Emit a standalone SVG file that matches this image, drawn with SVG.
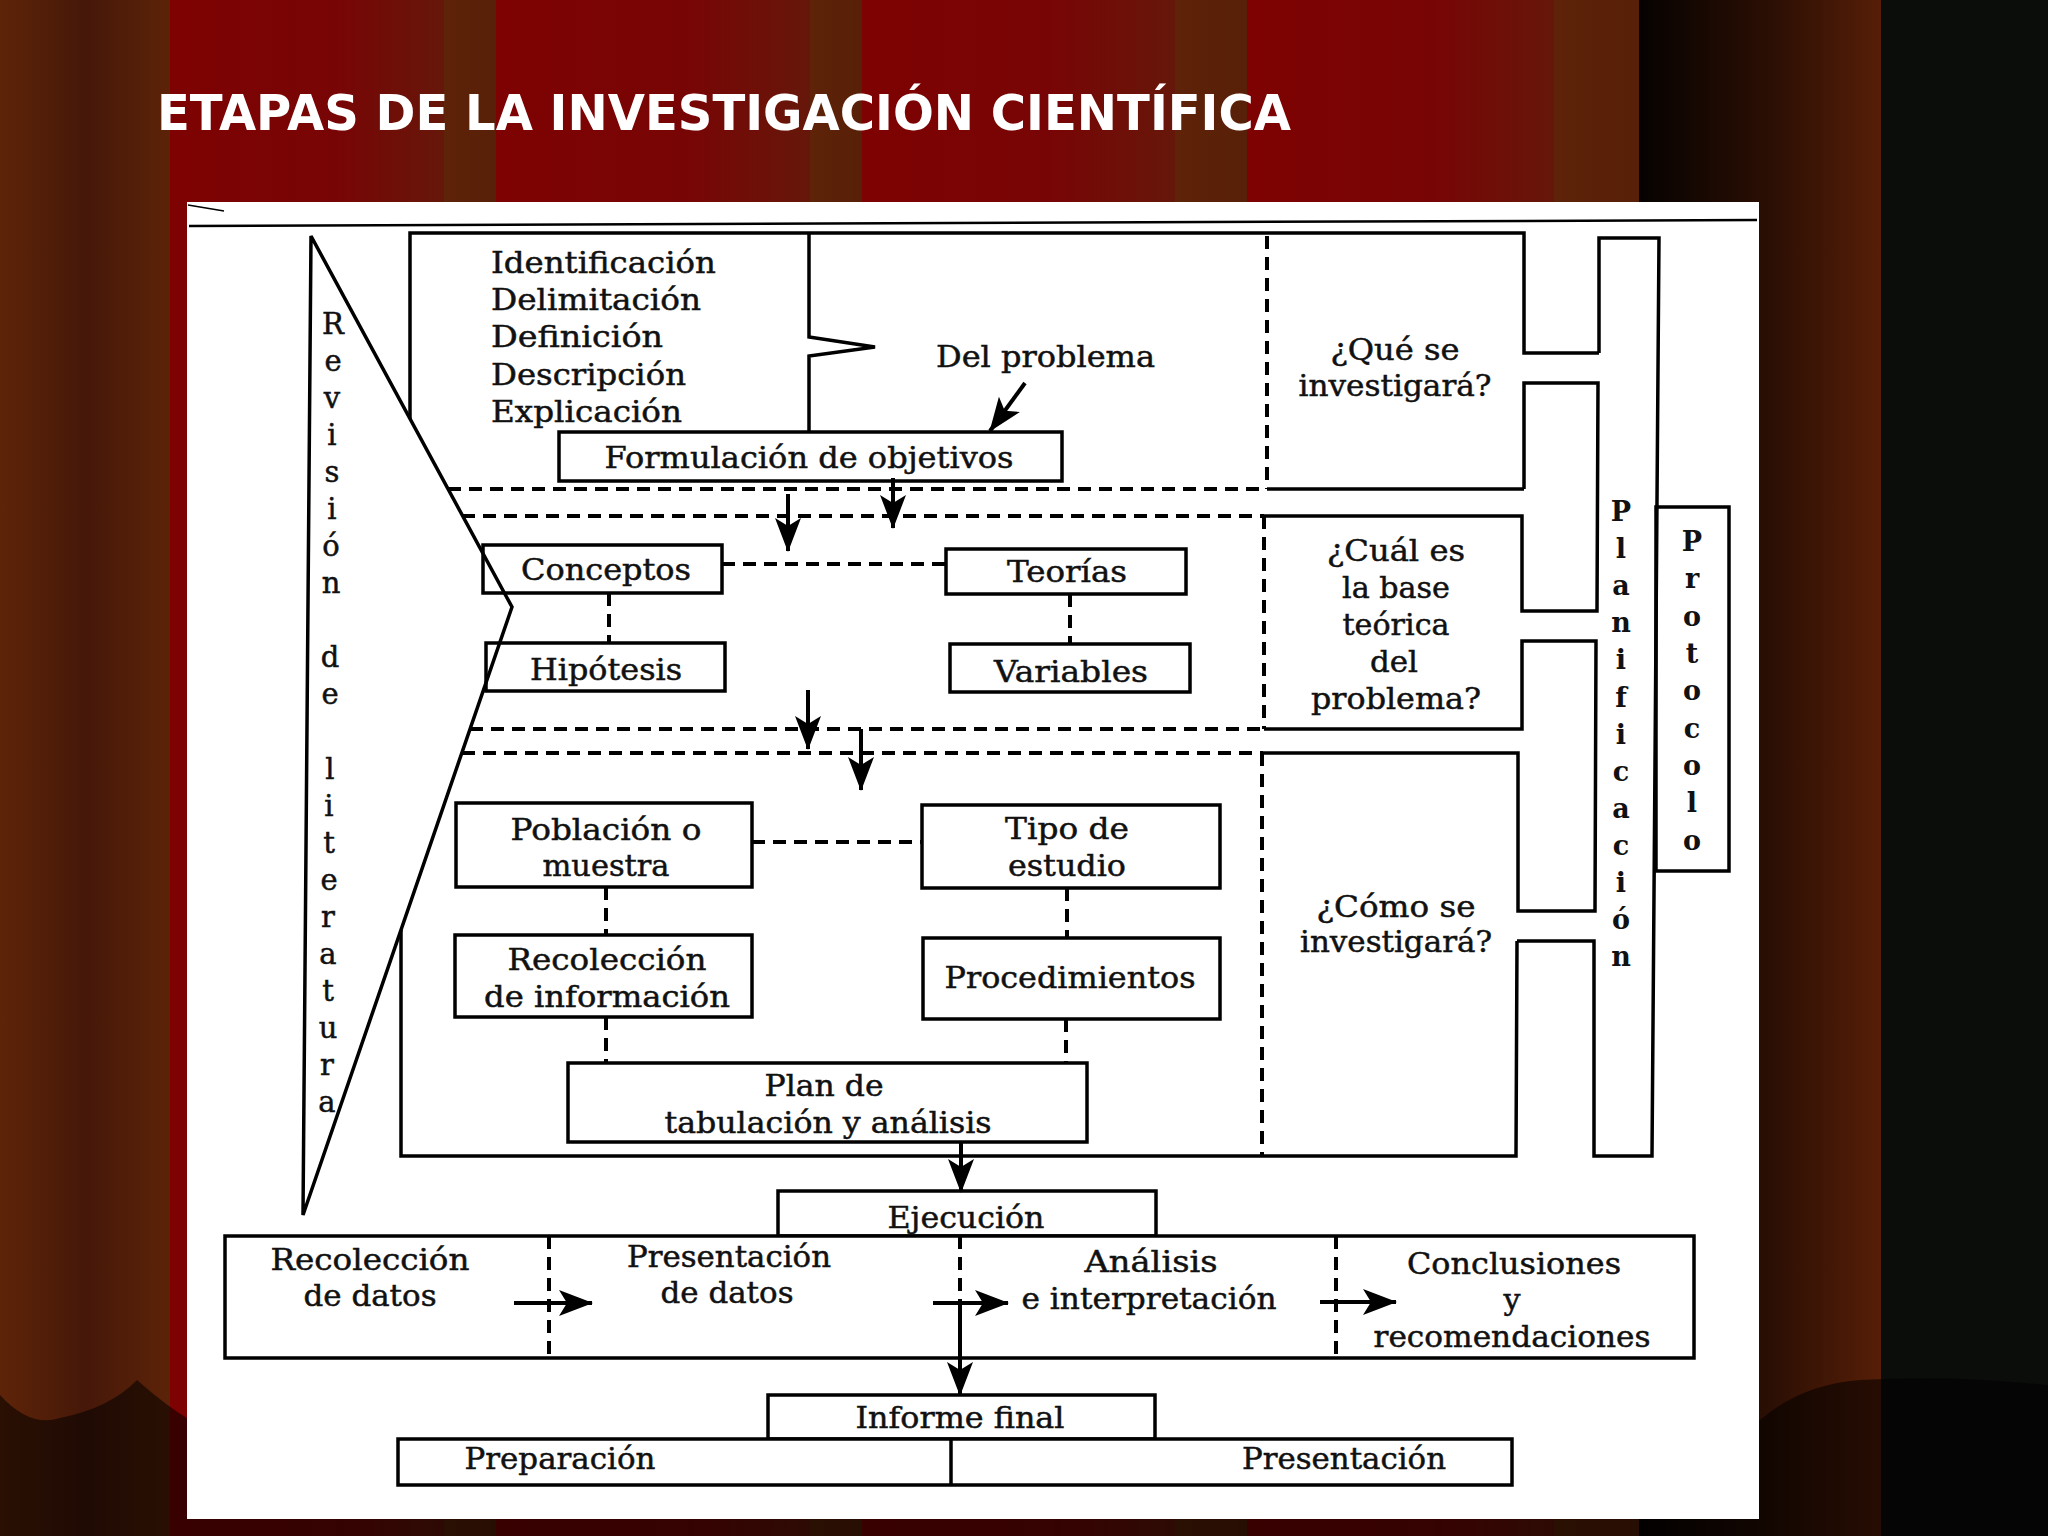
<svg xmlns="http://www.w3.org/2000/svg" width="2048" height="1536" viewBox="0 0 2048 1536">
<defs>
<linearGradient id="gL" x1="0" x2="1"><stop offset="0" stop-color="#5e2408"/><stop offset="0.5" stop-color="#461809"/><stop offset="1" stop-color="#5c2308"/></linearGradient>
<linearGradient id="gR" x1="0" x2="1"><stop offset="0" stop-color="#7e0202"/><stop offset="0.6" stop-color="#780505"/><stop offset="1" stop-color="#66170a"/></linearGradient>
<linearGradient id="gB" x1="0" x2="1"><stop offset="0" stop-color="#5e2308"/><stop offset="1" stop-color="#582008"/></linearGradient>
<linearGradient id="gK" x1="0" x2="1"><stop offset="0" stop-color="#060201"/><stop offset="0.55" stop-color="#2c0f04"/><stop offset="1" stop-color="#561e07"/></linearGradient>
<marker id="ah" markerUnits="userSpaceOnUse" markerWidth="34" markerHeight="26" viewBox="0 0 34 26" refX="33" refY="13" orient="auto">
<path d="M0,0 L34,13 L0,26 L8,13 Z" fill="#000"/>
</marker>
</defs>
<style>
.ln{fill:none;stroke:#000;stroke-width:3.5}
.dash{fill:none;stroke:#000;stroke-width:4;stroke-dasharray:13 8}
.bx{fill:#fff;stroke:#000;stroke-width:3.5}
.t{font-family:"DejaVu Serif","Liberation Serif",serif;font-size:30px;fill:#111;stroke:#111;stroke-width:0.5;text-anchor:middle}
.ts{font-family:"DejaVu Serif","Liberation Serif",serif;font-size:30px;fill:#111;stroke:#111;stroke-width:0.5}
.v{font-family:"DejaVu Serif","Liberation Serif",serif;font-size:29px;fill:#111;stroke:#111;stroke-width:0.5;text-anchor:middle}
.vb{font-family:"DejaVu Serif","Liberation Serif",serif;font-size:27px;font-weight:bold;fill:#111;text-anchor:middle}
.arr{fill:none;stroke:#000;stroke-width:4;marker-end:url(#ah)}
</style>

<!-- background curtain -->
<g id="background">
<rect x="0" y="0" width="170" height="1536" fill="url(#gL)"/>
<rect x="170" y="0" width="274" height="1536" fill="url(#gR)"/>
<rect x="444" y="0" width="52" height="1536" fill="url(#gB)"/>
<rect x="496" y="0" width="314" height="1536" fill="url(#gR)"/>
<rect x="810" y="0" width="52" height="1536" fill="url(#gB)"/>
<rect x="862" y="0" width="313" height="1536" fill="url(#gR)"/>
<rect x="1175" y="0" width="72" height="1536" fill="url(#gB)"/>
<rect x="1247" y="0" width="307" height="1536" fill="url(#gR)"/>
<rect x="1554" y="0" width="85" height="1536" fill="url(#gB)"/>
<rect x="1639" y="0" width="242" height="1536" fill="url(#gK)"/>
<rect x="1881" y="0" width="167" height="1536" fill="#0b0d0b"/>
<path d="M0,1395 Q30,1428 60,1418 Q110,1408 137,1380 Q165,1405 190,1420 L1760,1420 Q1800,1385 1860,1380 Q1950,1375 2048,1385 L2048,1536 L0,1536 Z" fill="#000" opacity="0.55"/>
</g>

<text x="157" y="130" font-family="DejaVu Sans, Liberation Sans, sans-serif" font-weight="bold" font-size="50" fill="#fff" textLength="1134" lengthAdjust="spacingAndGlyphs">ETAPAS DE LA INVESTIGACIÓN CIENTÍFICA</text>

<!-- white panel -->
<rect x="187" y="202" width="1572" height="1317" fill="#fff"/>
<path d="M189,226 L1757,220" stroke="#000" stroke-width="2.5" fill="none"/>
<path d="M188,205 L224,211" stroke="#000" stroke-width="1.5" fill="none"/>

<!-- frames / outlines -->
<g id="frames">
<path class="ln" d="M410,419 L410,233 L1524,233 L1524,353 L1599,353"/>
<path class="ln" d="M1524,489 L1524,383 L1598,383 L1597,611 L1522,611 L1522,516 L1264,516"/>
<path class="ln" d="M1267,489 L1524,489"/>
<path class="ln" d="M1264,729 L1522,729 L1522,641 L1596,641 L1595,911 L1518,911 L1518,753 L1263,753"/>
<path class="ln" d="M1517,941 L1516,1156 L401,1156 L401,930"/>
<path class="ln" d="M809,233 L809,337 L875,347 L809,356 L809,432"/>
</g>

<g id="planificacion">
<path class="ln" d="M1599,353 L1599,238 L1659,238 L1652,1156 L1594,1156 L1594,941 L1517,941"/>
<g class="vb">
<text x="1621" y="521">P</text><text x="1621" y="558">l</text><text x="1621" y="595">a</text><text x="1621" y="632">n</text><text x="1621" y="669">i</text><text x="1621" y="707">f</text><text x="1621" y="744">i</text><text x="1621" y="781">c</text><text x="1621" y="818">a</text><text x="1621" y="855">c</text><text x="1621" y="892">i</text><text x="1621" y="929">ó</text><text x="1621" y="966">n</text>
</g>
</g>

<g id="protocolo">
<rect x="1656" y="507" width="73" height="364" fill="none" stroke="#000" stroke-width="3.5"/>
<g class="vb">
<text x="1692" y="551">P</text><text x="1692" y="588">r</text><text x="1692" y="626">o</text><text x="1692" y="663">t</text><text x="1692" y="700">o</text><text x="1692" y="738">c</text><text x="1692" y="775">o</text><text x="1692" y="812">l</text><text x="1692" y="850">o</text>
</g>
</g>

<g id="problema-lista">
<text class="ts" x="491" y="273" textLength="225" lengthAdjust="spacingAndGlyphs">Identificación</text>
<text class="ts" x="491" y="310" textLength="210" lengthAdjust="spacingAndGlyphs">Delimitación</text>
<text class="ts" x="491" y="347" textLength="172" lengthAdjust="spacingAndGlyphs">Definición</text>
<text class="ts" x="491" y="385" textLength="195" lengthAdjust="spacingAndGlyphs">Descripción</text>
<text class="ts" x="491" y="422" textLength="191" lengthAdjust="spacingAndGlyphs">Explicación</text>
</g>
<g id="del-problema">
<text class="ts" x="936" y="367" textLength="219" lengthAdjust="spacingAndGlyphs">Del problema</text>
</g>

<g id="formulacion">
<rect class="bx" x="559" y="432" width="503" height="49"/>
<text class="t" x="809" y="468" textLength="409" lengthAdjust="spacingAndGlyphs">Formulación de objetivos</text>
</g>

<g id="que-se">
<text class="t" x="1395" y="360" textLength="129" lengthAdjust="spacingAndGlyphs">¿Qué se</text>
<text class="t" x="1395" y="396" textLength="193" lengthAdjust="spacingAndGlyphs">investigará?</text>
</g>
<g id="cual-es">
<text class="t" x="1396" y="561" textLength="138" lengthAdjust="spacingAndGlyphs">¿Cuál es</text>
<text class="t" x="1396" y="598" textLength="108" lengthAdjust="spacingAndGlyphs">la base</text>
<text class="t" x="1396" y="635" textLength="107" lengthAdjust="spacingAndGlyphs">teórica</text>
<text class="t" x="1394" y="672" textLength="48" lengthAdjust="spacingAndGlyphs">del</text>
<text class="t" x="1396" y="709" textLength="170" lengthAdjust="spacingAndGlyphs">problema?</text>
</g>
<g id="como-se">
<text class="t" x="1396" y="917" textLength="159" lengthAdjust="spacingAndGlyphs">¿Cómo se</text>
<text class="t" x="1396" y="952" textLength="192" lengthAdjust="spacingAndGlyphs">investigará?</text>
</g>

<g id="conceptos">
<rect class="bx" x="483" y="545" width="239" height="48"/>
<text class="t" x="606" y="580" textLength="170" lengthAdjust="spacingAndGlyphs">Conceptos</text>
</g>
<g id="teorias">
<rect class="bx" x="946" y="549" width="240" height="45"/>
<text class="t" x="1067" y="582" textLength="120" lengthAdjust="spacingAndGlyphs">Teorías</text>
</g>
<g id="hipotesis">
<rect class="bx" x="486" y="643" width="239" height="48"/>
<text class="t" x="606" y="680" textLength="152" lengthAdjust="spacingAndGlyphs">Hipótesis</text>
</g>
<g id="variables">
<rect class="bx" x="950" y="644" width="240" height="48"/>
<text class="t" x="1071" y="682" textLength="154" lengthAdjust="spacingAndGlyphs">Variables</text>
</g>

<g id="poblacion">
<rect class="bx" x="456" y="803" width="296" height="84"/>
<text class="t" x="606" y="840" textLength="191" lengthAdjust="spacingAndGlyphs">Población o</text>
<text class="t" x="606" y="876" textLength="127" lengthAdjust="spacingAndGlyphs">muestra</text>
</g>
<g id="tipo-estudio">
<rect class="bx" x="922" y="805" width="298" height="83"/>
<text class="t" x="1067" y="839" textLength="124" lengthAdjust="spacingAndGlyphs">Tipo de</text>
<text class="t" x="1067" y="876" textLength="118" lengthAdjust="spacingAndGlyphs">estudio</text>
</g>
<g id="recoleccion-info">
<rect class="bx" x="455" y="935" width="297" height="82"/>
<text class="t" x="607" y="970" textLength="199" lengthAdjust="spacingAndGlyphs">Recolección</text>
<text class="t" x="607" y="1007" textLength="246" lengthAdjust="spacingAndGlyphs">de información</text>
</g>
<g id="procedimientos">
<rect class="bx" x="923" y="938" width="297" height="81"/>
<text class="t" x="1070" y="988" textLength="251" lengthAdjust="spacingAndGlyphs">Procedimientos</text>
</g>
<g id="plan">
<rect class="bx" x="568" y="1063" width="519" height="79"/>
<text class="t" x="824" y="1096" textLength="119" lengthAdjust="spacingAndGlyphs">Plan de</text>
<text class="t" x="828" y="1133" textLength="327" lengthAdjust="spacingAndGlyphs">tabulación y análisis</text>
</g>

<g id="revision-literatura">
<polygon class="ln" points="311,236 512,607 303,1215"/>
<g class="v">
<text x="333" y="334">R</text><text x="333" y="371">e</text><text x="332" y="408">v</text><text x="332" y="445">i</text><text x="332" y="482">s</text><text x="332" y="519">i</text><text x="331" y="556">ó</text><text x="331" y="593">n</text>
<text x="330" y="667">d</text><text x="330" y="704">e</text>
<text x="330" y="779">l</text><text x="329" y="816">i</text><text x="329" y="853">t</text><text x="329" y="890">e</text><text x="328" y="927">r</text><text x="328" y="964">a</text><text x="328" y="1001">t</text><text x="328" y="1038">u</text><text x="327" y="1075">r</text><text x="327" y="1112">a</text>
</g>
</g>

<g id="ejecucion">
<rect class="bx" x="778" y="1191" width="378" height="45"/>
<text class="t" x="966" y="1228" textLength="157" lengthAdjust="spacingAndGlyphs">Ejecución</text>
</g>
<g id="fases-ejecucion">
<rect class="bx" x="225" y="1236" width="1469" height="122"/>
<text class="t" x="370" y="1270" textLength="199" lengthAdjust="spacingAndGlyphs">Recolección</text>
<text class="t" x="370" y="1306" textLength="133" lengthAdjust="spacingAndGlyphs">de datos</text>
<text class="t" x="729" y="1267" textLength="204" lengthAdjust="spacingAndGlyphs">Presentación</text>
<text class="t" x="727" y="1303" textLength="133" lengthAdjust="spacingAndGlyphs">de datos</text>
<text class="t" x="1151" y="1272" textLength="133" lengthAdjust="spacingAndGlyphs">Análisis</text>
<text class="t" x="1149" y="1309" textLength="255" lengthAdjust="spacingAndGlyphs">e interpretación</text>
<text class="t" x="1514" y="1274" textLength="214" lengthAdjust="spacingAndGlyphs">Conclusiones</text>
<text class="t" x="1512" y="1310">y</text>
<text class="t" x="1512" y="1347" textLength="277" lengthAdjust="spacingAndGlyphs">recomendaciones</text>
</g>
<g id="informe-final">
<rect class="bx" x="768" y="1395" width="387" height="44"/>
<text class="t" x="960" y="1428" textLength="209" lengthAdjust="spacingAndGlyphs">Informe final</text>
</g>
<g id="preparacion-presentacion">
<rect class="bx" x="398" y="1439" width="1114" height="46"/>
<line class="ln" x1="951" y1="1439" x2="951" y2="1485"/>
<text class="t" x="560" y="1469" textLength="191" lengthAdjust="spacingAndGlyphs">Preparación</text>
<text class="t" x="1344" y="1469" textLength="204" lengthAdjust="spacingAndGlyphs">Presentación</text>
</g>

<g id="connectors">
<line class="dash" x1="448" y1="489" x2="1267" y2="489"/>
<line class="dash" x1="462" y1="516" x2="1264" y2="516"/>
<line class="dash" x1="470" y1="729" x2="1264" y2="729"/>
<line class="dash" x1="462" y1="753" x2="1263" y2="753"/>
<line class="dash" x1="1267" y1="236" x2="1267" y2="489"/>
<line class="dash" x1="1264" y1="516" x2="1264" y2="729"/>
<line class="dash" x1="1262" y1="753" x2="1262" y2="1156"/>
<line class="dash" x1="722" y1="564" x2="946" y2="564"/>
<line class="dash" x1="609" y1="593" x2="609" y2="643"/>
<line class="dash" x1="1070" y1="594" x2="1070" y2="644"/>
<line class="dash" x1="752" y1="842" x2="922" y2="842"/>
<line class="dash" x1="606" y1="887" x2="606" y2="935"/>
<line class="dash" x1="1067" y1="888" x2="1067" y2="938"/>
<line class="dash" x1="606" y1="1017" x2="606" y2="1063"/>
<line class="dash" x1="1066" y1="1019" x2="1066" y2="1063"/>
<line class="dash" x1="549" y1="1236" x2="549" y2="1358"/>
<line class="dash" x1="960" y1="1236" x2="960" y2="1300"/>
<line class="dash" x1="1336" y1="1236" x2="1336" y2="1358"/>
<line class="arr" x1="1025" y1="383" x2="990" y2="431"/>
<line class="arr" x1="788" y1="494" x2="788" y2="551"/>
<line class="arr" x1="893" y1="478" x2="893" y2="528"/>
<line class="arr" x1="808" y1="690" x2="808" y2="749"/>
<line class="arr" x1="861" y1="729" x2="861" y2="790"/>
<line class="arr" x1="961" y1="1142" x2="961" y2="1192"/>
<line class="arr" x1="960" y1="1300" x2="960" y2="1395"/>
<line class="arr" x1="514" y1="1303" x2="592" y2="1303"/>
<line class="arr" x1="933" y1="1303" x2="1008" y2="1303"/>
<line class="arr" x1="1320" y1="1302" x2="1396" y2="1302"/>
</g>
</svg>
